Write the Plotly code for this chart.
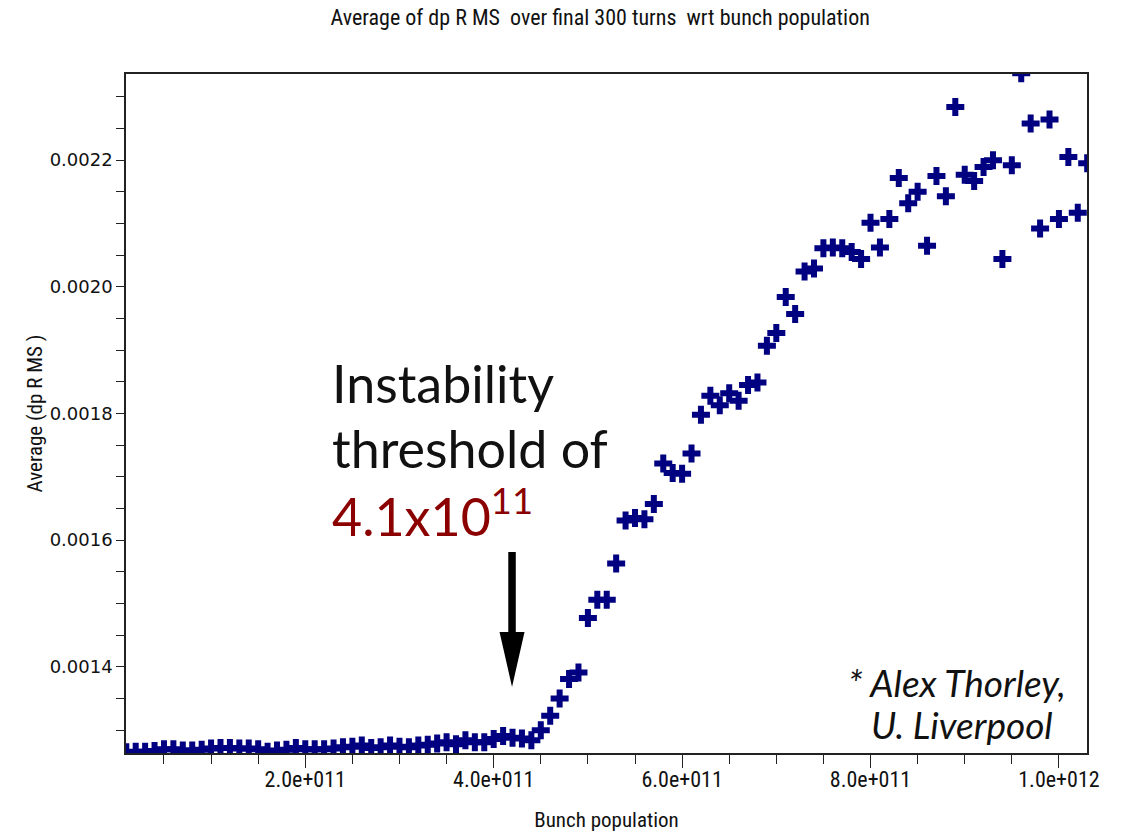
import plotly.graph_objects as go

# Bunch population (units of 1e11 particles)
population_e11 = [
    0.1, 0.2, 0.3, 0.4, 0.5, 0.6, 0.7, 0.8, 0.9, 1.0,
    1.1, 1.2, 1.3, 1.4, 1.5, 1.6, 1.7, 1.8, 1.9, 2.0,
    2.1, 2.2, 2.3, 2.4, 2.5, 2.6, 2.7, 2.8, 2.9, 3.0,
    3.1, 3.2, 3.3, 3.4, 3.5, 3.6, 3.7, 3.8, 3.9, 4.0,
    4.1, 4.2, 4.3, 4.4, 4.5, 4.6, 4.7, 4.8, 4.9, 5.0,
    5.1, 5.2, 5.3, 5.4, 5.5, 5.6, 5.7, 5.8, 5.9, 6.0,
    6.1, 6.2, 6.3, 6.4, 6.5, 6.6, 6.7, 6.8, 6.9, 7.0,
    7.1, 7.2, 7.3, 7.4, 7.5, 7.6, 7.7, 7.8, 7.9, 8.0,
    8.1, 8.2, 8.3, 8.4, 8.5, 8.6, 8.7, 8.8, 8.9, 9.0,
    9.1, 9.2, 9.3, 9.4, 9.5, 9.6, 9.7, 9.8, 9.9, 10.0,
    10.1, 10.2, 10.3,
]

# Average dp RMS over the final 300 turns
dp_rms_avg = [
    0.001265, 0.001266, 0.001266, 0.001267, 0.001270, 0.001270, 0.001268, 0.001268, 0.001269, 0.001271,
    0.001272, 0.001272, 0.001271, 0.001271, 0.001270, 0.001266, 0.001268, 0.001269, 0.001272, 0.001270,
    0.001270, 0.001270, 0.001271, 0.001273, 0.001274, 0.001276, 0.001272, 0.001273, 0.001276, 0.001274,
    0.001273, 0.001276, 0.001277, 0.001279, 0.001281, 0.001278, 0.001284, 0.001281, 0.001281, 0.001286,
    0.001291, 0.001288, 0.001287, 0.001284, 0.001300, 0.001323, 0.001350, 0.001381, 0.001391, 0.001477,
    0.001506, 0.001506, 0.001563, 0.001631, 0.001635, 0.001633, 0.001657, 0.001721, 0.001706, 0.001705,
    0.001737, 0.001798, 0.001828, 0.001813, 0.001832, 0.001820, 0.001845, 0.001849, 0.001907, 0.001927,
    0.001984, 0.001957, 0.002024, 0.002029, 0.002061, 0.002062, 0.002061, 0.002055, 0.002044, 0.002101,
    0.002062, 0.002107, 0.002172, 0.002132, 0.002150, 0.002065, 0.002175, 0.002143, 0.002284, 0.002177,
    0.002167, 0.002189, 0.002200, 0.002044, 0.002192, 0.002337, 0.002258, 0.002092, 0.002264, 0.002107,
    0.002205, 0.002117, 0.002195,
]

x_tick_vals = [2e11, 4e11, 6e11, 8e11, 1e12]
x_tick_text = ["2.0e+011", "4.0e+011", "6.0e+011", "8.0e+011", "1.0e+012"]
y_tick_vals = [0.0014, 0.0016, 0.0018, 0.0020, 0.0022]
y_tick_text = ["0.0014", "0.0016", "0.0018", "0.0020", "0.0022"]

bunch_population = [p * 1e11 for p in population_e11]

NARROW = "Roboto Condensed, Liberation Sans Narrow, Lato, sans-serif"
NAVY = "#000080"

fig = go.Figure()
fig.add_trace(go.Scatter(
    x=bunch_population,
    y=dp_rms_avg,
    mode="markers",
    marker=dict(symbol="cross", size=15, color=NAVY, line=dict(width=0)),
    showlegend=False,
))

axis_line = dict(showline=True, linecolor="#222", linewidth=1.5, mirror=True,
                 showgrid=False, zeroline=False, automargin=False)

fig.update_layout(
    width=1124, height=832,
    margin=dict(l=126, r=37, t=74, b=79),
    paper_bgcolor="white", plot_bgcolor="white",
    title=dict(text="Average of dp R MS  over final 300 turns  wrt bunch population",
               x=0.534, xanchor="center", y=0.979, yanchor="middle",
               font=dict(family=NARROW, size=22, color="#111")),
    xaxis=dict(
        range=[0.97e10, 1.0298e12],
        tickmode="array", tickvals=x_tick_vals, ticktext=x_tick_text,
        ticks="outside", ticklen=13, tickwidth=1.3, tickcolor="#222",
        ticklabelstandoff=-7,
        minor=dict(dtick=5e10, tick0=0, ticks="outside", ticklen=9,
                   tickwidth=1.3, tickcolor="#222"),
        tickfont=dict(family=NARROW, size=22, color="#111"),
        title=dict(text="Bunch population", standoff=23,
                   font=dict(family=NARROW, size=21, color="#111")),
        **axis_line,
    ),
    yaxis=dict(
        range=[0.001264, 0.002336],
        tickmode="array", tickvals=y_tick_vals, ticktext=y_tick_text,
        ticks="outside", ticklen=8, tickwidth=1.3, tickcolor="#222",
        minor=dict(dtick=0.00005, tick0=0, ticks="outside", ticklen=8,
                   tickwidth=1.3, tickcolor="#222"),
        tickfont=dict(family="DejaVu Sans", size=18, color="#111"),
        title=dict(text="Average (dp R MS )", standoff=1,
                   font=dict(family=NARROW, size=21, color="#111")),
        **axis_line,
    ),
)

# Threshold note
note_font = dict(family="Lato, sans-serif", size=52, color="#111")
fig.add_annotation(xref="paper", yref="paper", x=0.212, y=0.5449,
                   xanchor="left", yanchor="middle", showarrow=False,
                   text="Instability", font=note_font)
fig.add_annotation(xref="paper", yref="paper", x=0.212, y=0.4492,
                   xanchor="left", yanchor="middle", showarrow=False,
                   text="threshold of", font=note_font)
fig.add_annotation(xref="paper", yref="paper", x=0.212, y=0.3535,
                   xanchor="left", yanchor="middle", showarrow=False,
                   text="4.1x10<sup>11</sup>",
                   font=dict(family="Lato, sans-serif", size=52, color="#8B0000"))

# Downward arrow pointing at the threshold
ax, hw, HW = 0.4017, 0.0039, 0.013
y_top, y_base, y_tip = 0.296, 0.1782, 0.0972
fig.add_shape(
    type="path", xref="paper", yref="paper",
    path=(f"M {ax-hw},{y_top} L {ax+hw},{y_top} L {ax+hw},{y_base} "
          f"L {ax+HW},{y_base} L {ax},{y_tip} L {ax-HW},{y_base} "
          f"L {ax-hw},{y_base} Z"),
    fillcolor="black", line=dict(width=0),
)

# Credit
credit_font = dict(family="Lato, sans-serif", size=37, color="#111")
fig.add_annotation(xref="paper", yref="paper", x=0.9802, y=0.1031,
                   xanchor="right", yanchor="middle", showarrow=False,
                   text="<i>* Alex Thorley,</i>", font=credit_font)
fig.add_annotation(xref="paper", yref="paper", x=0.9667, y=0.0427,
                   xanchor="right", yanchor="middle", showarrow=False,
                   text="<i>U. Liverpool</i>", font=credit_font)

fig.write_html("out.html")
